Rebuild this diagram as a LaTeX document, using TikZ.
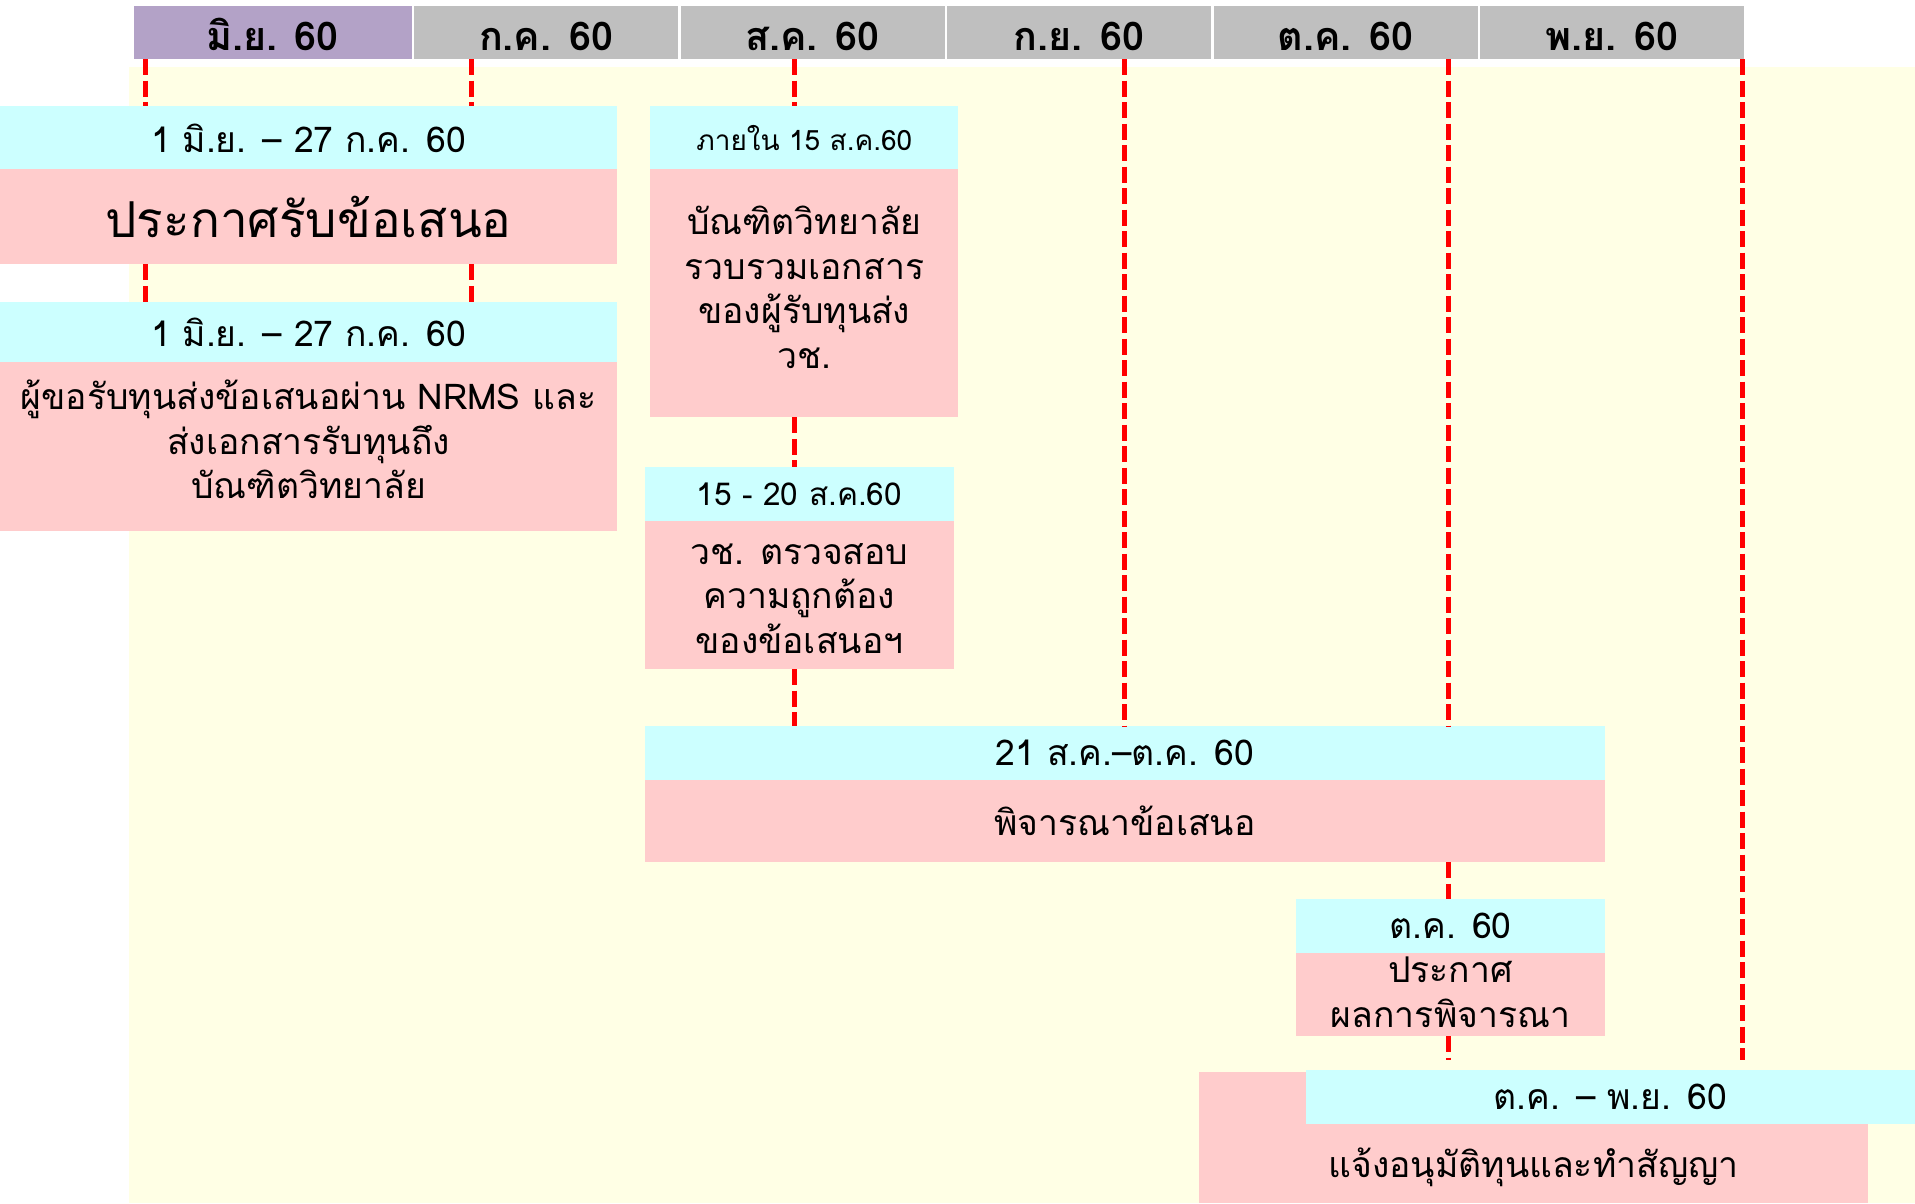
\documentclass[tikz,border=0pt]{standalone}
\usepackage{fontspec}
\setmainfont[Script=Thai]{Loma}
\usepackage{tikz}
\usetikzlibrary{calc,positioning}
\definecolor{hdrgray}{RGB}{191,191,191}
\definecolor{hdrpurple}{RGB}{179,162,199}
\definecolor{datecyan}{RGB}{204,255,255}
\definecolor{actpink}{RGB}{255,204,204}
\definecolor{bgyellow}{RGB}{255,255,229}
\begin{document}
\begin{tikzpicture}[x=1pt,y=-1pt,
		monthbox/.style={fill=hdrgray,minimum width=264pt,minimum height=53pt,inner sep=0pt,outer sep=0pt,text height=35pt,text depth=0pt,font=\fontsize{39.5}{44}\selectfont\bfseries},
		datebox/.style={fill=datecyan,anchor=north west,inner sep=0pt,outer sep=0pt,font=\fontsize{35.5}{44}\selectfont},
		actbox/.style={fill=actpink,inner sep=0pt,outer sep=0pt,align=center,font=\fontsize{35.5}{44.5}\selectfont},
		deadline/.style={red,line width=5pt,dash pattern=on 16pt off 5.5pt}]
			\useasboundingbox (0,0) rectangle (1915,1203);
			\fill[bgyellow] (128.6,67.3) rectangle (1915,1203);
			
			\node[monthbox,fill=hdrpurple,minimum width=278pt,anchor=north west] (m6) at (133.5,6) {มิ.ย. 60};
			\node[monthbox,right=2.5pt of m6] (m7) {ก.ค. 60};
			\node[monthbox,right=2.5pt of m7] (m8) {ส.ค. 60};
			\node[monthbox,right=2.5pt of m8] (m9) {ก.ย. 60};
			\node[monthbox,right=2.5pt of m9] (m10) {ต.ค. 60};
			\node[monthbox,right=2.5pt of m10] (m11) {พ.ย. 60};
			
			\node[datebox,minimum width=617pt,minimum height=63pt] (d1) at (0,106.4) {1 มิ.ย. – 27 ก.ค. 60};
			\node[actbox,minimum width=617pt,minimum height=95pt,below=0pt of d1,font=\fontsize{49.5}{54}\selectfont] (a1) {ประกาศรับข้อเสนอ};
			\node[datebox,minimum width=617pt,minimum height=60pt] (d2) at (0,302.3) {1 มิ.ย. – 27 ก.ค. 60};
			\node[actbox,minimum width=617pt,minimum height=169pt,below=0pt of d2] (a2) {ผู้ขอรับทุนส่งข้อเสนอผ่าน NRMS และ\\ส่งเอกสารรับทุนถึง\\บัณฑิตวิทยาลัย\rule[-15pt]{0pt}{15pt}};
			
			\node[datebox,minimum width=308pt,minimum height=63pt,font=\fontsize{28}{32}\selectfont] (d3) at (650.3,106.4) {ภายใน 15 ส.ค.60};
			\node[actbox,minimum width=308pt,minimum height=248pt,below=0pt of d3] (a3) {บัณฑิตวิทยาลัย\\รวบรวมเอกสาร\\ของผู้รับทุนส่ง\\วช.\rule[-12pt]{0pt}{12pt}};
			\node[datebox,minimum width=309pt,minimum height=54pt,font=\fontsize{31.5}{36}\selectfont] (d4) at (644.8,467) {15 - 20 ส.ค.60};
			\node[actbox,minimum width=309pt,minimum height=148pt,below=0pt of d4] (a4) {\rule{0pt}{28pt}วช. ตรวจสอบ\\ความถูกต้อง\\ของข้อเสนอฯ};
			
			\node[datebox,minimum width=960pt,minimum height=54pt] (d5) at (644.8,726) {21 ส.ค.–ต.ค. 60};
			\node[actbox,minimum width=960pt,minimum height=82pt,below=0pt of d5] (a5) {พิจารณาข้อเสนอ};
			\node[datebox,minimum width=309pt,minimum height=54pt] (d6) at (1296,899) {ต.ค. 60};
			\node[actbox,minimum width=309pt,minimum height=83pt,below=0pt of d6] (a6) {ประกาศ\\ผลการพิจารณา\rule[-5pt]{0pt}{5pt}};
			
			\node[actbox,minimum width=669pt,minimum height=131pt,anchor=north west] (a7) at (1199,1072) {};
			\node[datebox,minimum width=609.5pt,minimum height=54pt] (d7) at (1305.5,1070) {ต.ค. – พ.ย. 60};
			\node[font=\fontsize{35.5}{44}\selectfont] (t7) at ($(d7.south -| a7.center)!.5!(a7.south)+(0,4)$) {แจ้งอนุมัติทุนและทำสัญญา};
			
			\coordinate (v1) at (145,0);
			\coordinate (v2) at (471.5,0);
			\coordinate (v3) at (794,0);
			\coordinate (v4) at (1124.6,0);
			\coordinate (v5) at (1448.6,0);
			\coordinate (v6) at (1742,0);
			\coordinate (e5) at (1448.6,1060);
			\coordinate (e6) at (1742,1060);
			\draw[deadline](v1 |- m6.south) -- (v1 |- d1.north);
			\draw[deadline](v1 |- a1.south) -- (v1 |- d2.north);
			\draw[deadline](v2 |- m7.south) -- (v2 |- d1.north);
			\draw[deadline](v2 |- a1.south) -- (v2 |- d2.north);
			\draw[deadline](v3 |- m8.south) -- (v3 |- d3.north);
			\draw[deadline](v3 |- a3.south) -- (v3 |- d4.north);
			\draw[deadline](v3 |- a4.south) -- (v3 |- d5.north);
			\draw[deadline](v4 |- m9.south) -- (v4 |- d5.north);
			\draw[deadline](v5 |- m10.south) -- (v5 |- d5.north);
			\draw[deadline](v5 |- a5.south) -- (v5 |- d6.north);
			\draw[deadline](v5 |- a6.south) -- (e5);
			\draw[deadline](v6 |- m11.south) -- (e6);
		\end{tikzpicture}
\end{document}
